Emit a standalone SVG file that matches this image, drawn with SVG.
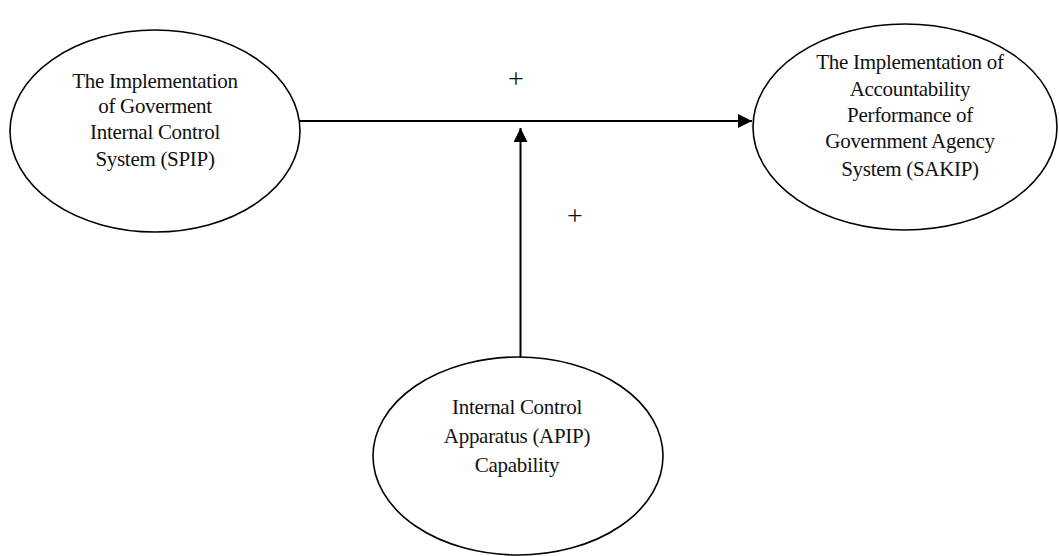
<svg xmlns="http://www.w3.org/2000/svg" width="1059" height="556" viewBox="0 0 1059 556">
<style>
.node{fill:#fff;stroke:#000;stroke-width:1.6}
.lbl{font-family:"Liberation Serif",serif;font-size:21px;fill:#111;text-anchor:middle;letter-spacing:-0.3px}
.plus{font-family:"Liberation Serif",serif;font-size:28px;fill:#111;text-anchor:middle}
.conn{stroke:#000;stroke-width:2;fill:none}
</style>
<defs>
<marker id="arr" viewBox="0 0 10 10" refX="10" refY="5" markerWidth="16" markerHeight="14" markerUnits="userSpaceOnUse" orient="auto">
<path d="M0,0 L10,5 L0,10 Z" fill="#000"/>
</marker>
</defs>
<rect width="1059" height="556" fill="#fff"/>
<g id="spip">
<ellipse class="node" cx="155" cy="131" rx="145" ry="101"/>
<text class="lbl" x="155" y="88">The Implementation</text>
<text class="lbl" x="155" y="113">of Goverment</text>
<text class="lbl" x="155" y="139">Internal Control</text>
<text class="lbl" x="155" y="166">System (SPIP)</text>
</g>
<g id="sakip">
<ellipse class="node" cx="905" cy="127" rx="152" ry="103"/>
<text class="lbl" x="910" y="69">The Implementation of</text>
<text class="lbl" x="910" y="96">Accountability</text>
<text class="lbl" x="910" y="122">Performance of</text>
<text class="lbl" x="910" y="148">Government Agency</text>
<text class="lbl" x="910" y="176">System (SAKIP)</text>
</g>
<g id="apip">
<ellipse class="node" cx="518" cy="456" rx="145" ry="99"/>
<text class="lbl" x="517" y="414">Internal Control</text>
<text class="lbl" x="517" y="443">Apparatus (APIP)</text>
<text class="lbl" x="517" y="472">Capability</text>
</g>
<g id="connectors">
<line class="conn" x1="300" y1="121" x2="752" y2="121" marker-end="url(#arr)"/>
<line class="conn" x1="520.5" y1="357" x2="520.5" y2="128" marker-end="url(#arr)"/>
<text class="plus" x="516" y="88">+</text>
<text class="plus" x="575" y="225">+</text>
</g>
</svg>
